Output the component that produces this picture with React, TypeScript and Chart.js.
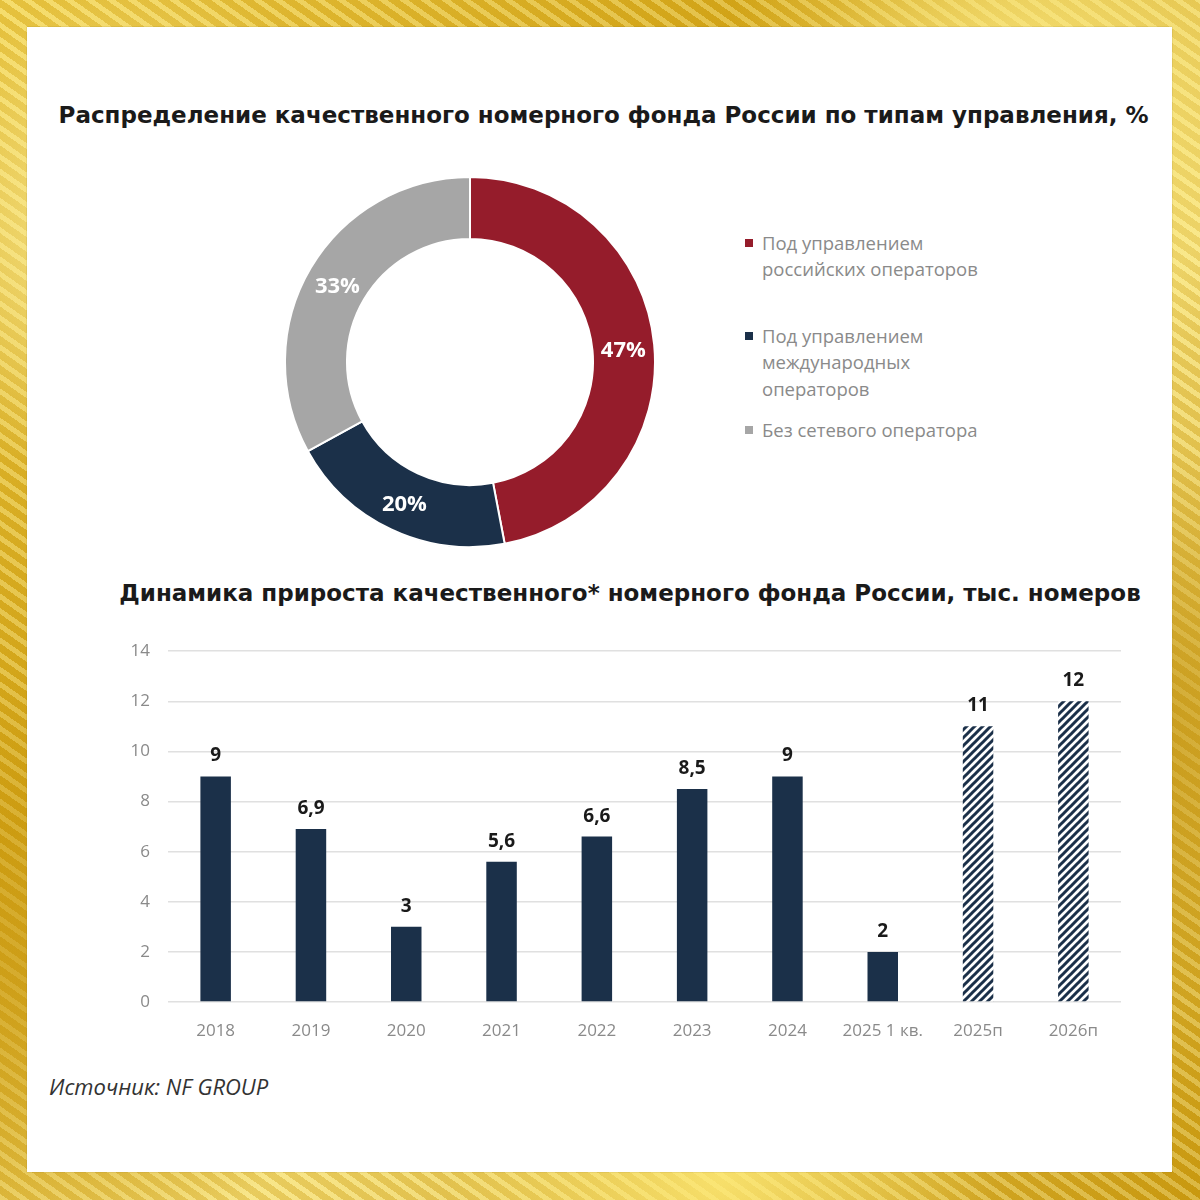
import React, { useEffect, useRef } from "react";
import { Chart, registerables } from "chart.js";

Chart.register(...registerables);

// ---------- data ----------
const pieTitle = "Распределение качественного номерного фонда России по типам управления, %";
const shareLegendLines = [
  ["Под управлением", "российских операторов"],
  ["Под управлением", "международных", "операторов"],
  ["Без сетевого оператора"],
];
const shareLabels = [
  "Под управлением российских операторов",
  "Под управлением международных операторов",
  "Без сетевого оператора",
];
const shareValues = [47, 20, 33];
const shareColors = ["#951c2b", "#1b3049", "#a6a6a6"];

const barTitle = "Динамика прироста качественного* номерного фонда России, тыс. номеров";
const yearCategories = ["2018", "2019", "2020", "2021", "2022", "2023", "2024", "2025 1 кв.", "2025п", "2026п"];
const growthValues = [9, 6.9, 3, 5.6, 6.6, 8.5, 9, 2, 11, 12];
const forecastFlags = [false, false, false, false, false, false, false, false, true, true];
const yAxisMin = 0;
const yAxisMax = 14;
const yAxisStep = 2;

const sourceText = "Источник: NF GROUP";

const NAVY = "#1b3049";
const fmt = (v: number) => String(v).replace(".", ",");

function makeHatch(): CanvasPattern | string {
  const s = 8;
  const c = document.createElement("canvas");
  c.width = s;
  c.height = s;
  const p = c.getContext("2d");
  if (!p) return NAVY;
  p.fillStyle = "#ffffff";
  p.fillRect(0, 0, s, s);
  p.strokeStyle = NAVY;
  p.lineWidth = 3;
  p.lineCap = "square";
  p.beginPath();
  p.moveTo(-2, 2);
  p.lineTo(2, -2);
  p.moveTo(0, s);
  p.lineTo(s, 0);
  p.moveTo(s - 2, s + 2);
  p.lineTo(s + 2, s - 2);
  p.stroke();
  const pat = p.createPattern(c, "repeat");
  return pat || NAVY;
}

const doughnutLabels = {
  id: "doughnutLabels",
  afterDatasetsDraw(chart: any) {
    const ctx = chart.ctx;
    const meta = chart.getDatasetMeta(0);
    ctx.save();
    ctx.font = 'bold 22px "Open Sans"';
    ctx.fillStyle = "#ffffff";
    ctx.textAlign = "center";
    ctx.textBaseline = "middle";
    meta.data.forEach((arc: any, i: number) => {
      const pos = arc.tooltipPosition();
      ctx.fillText(shareValues[i] + "%", pos.x, pos.y + 3);
    });
    ctx.restore();
  },
};

const barValueLabels = {
  id: "barValueLabels",
  afterDatasetsDraw(chart: any) {
    const ctx = chart.ctx;
    const meta = chart.getDatasetMeta(0);
    ctx.save();
    ctx.font = 'bold 19px "Open Sans"';
    ctx.fillStyle = "#1a1a1a";
    ctx.textAlign = "center";
    ctx.textBaseline = "alphabetic";
    meta.data.forEach((bar: any, i: number) => {
      ctx.fillText(fmt(growthValues[i]), bar.x, bar.y - 15);
    });
    ctx.restore();
  },
};

export default function App() {
  const pieRef = useRef<HTMLCanvasElement>(null);
  const barRef = useRef<HTMLCanvasElement>(null);

  useEffect(() => {
    if (!pieRef.current || !barRef.current) return;
    const pie = new Chart(pieRef.current, {
      type: "doughnut",
      data: {
        labels: shareLabels,
        datasets: [
          {
            data: shareValues,
            backgroundColor: shareColors,
            borderColor: "#ffffff",
            borderWidth: 2,
          },
        ],
      },
      options: {
        animation: false,
        responsive: false,
        maintainAspectRatio: false,
        cutout: "66.5%",
        layout: { padding: 0 },
        plugins: { legend: { display: false }, tooltip: { enabled: false } },
      },
      plugins: [doughnutLabels],
    });

    const hatch = makeHatch();
    const bar = new Chart(barRef.current, {
      type: "bar",
      data: {
        labels: yearCategories,
        datasets: [
          {
            data: growthValues,
            backgroundColor: forecastFlags.map((f) => (f ? hatch : NAVY)) as any,
            borderWidth: 0,
            categoryPercentage: 1,
            barPercentage: 0.32,
          },
        ],
      },
      options: {
        animation: false,
        responsive: false,
        maintainAspectRatio: false,
        layout: { padding: { top: 0, right: 19, left: 0, bottom: 0 } },
        plugins: { legend: { display: false }, tooltip: { enabled: false } },
        scales: {
          x: {
            grid: { display: false },
            border: { display: false },
            ticks: {
              color: "#8a8a8a",
              font: { family: "Open Sans", size: 17 },
              padding: 11,
              maxRotation: 0,
              autoSkip: false,
            },
            afterFit: (s: any) => {
              s.height = 58;
            },
          },
          y: {
            min: yAxisMin,
            max: yAxisMax,
            ticks: {
              stepSize: yAxisStep,
              color: "#8a8a8a",
              font: { family: "Open Sans", size: 17 },
              padding: 18,
            },
            grid: { color: "#e0e0e0", lineWidth: 1.5, drawTicks: false },
            border: { display: false },
            afterFit: (s: any) => {
              s.width = 58;
            },
          },
        },
      },
      plugins: [barValueLabels],
    });

    return () => {
      pie.destroy();
      bar.destroy();
    };
  }, []);

  const titleStyle = (cx: number, cy: number): React.CSSProperties => ({
    position: "absolute",
    left: cx,
    top: cy - 16,
    transform: "translateX(-50%)",
    whiteSpace: "nowrap",
    fontFamily: '"DejaVu Sans", sans-serif',
    fontWeight: "bold",
    fontSize: 23,
    lineHeight: "32px",
    color: "#1a1a1a",
  });

  const legendTops = [243, 336, 430];
  const legendLineH = 26.5;

  return (
    <div
      style={{
        position: "absolute",
        left: 0,
        top: 0,
        width: 1200,
        height: 1200,
        overflow: "hidden",
        background:
          "radial-gradient(circle at 12% 20%, rgba(255,245,170,0.85), transparent 18%)," +
          "radial-gradient(circle at 85% 8%, rgba(255,240,140,0.8), transparent 20%)," +
          "radial-gradient(circle at 92% 60%, rgba(190,140,10,0.7), transparent 22%)," +
          "radial-gradient(circle at 6% 80%, rgba(200,150,15,0.7), transparent 20%)," +
          "radial-gradient(circle at 60% 98%, rgba(255,235,120,0.8), transparent 20%)," +
          "repeating-linear-gradient(35deg, rgba(255,255,210,0.25) 0 5px, rgba(170,120,0,0.18) 5px 12px)," +
          "linear-gradient(135deg, #f3d24c, #d7a816 35%, #f6de72 60%, #cf9f12)",
      }}
    >
      <div
        style={{
          position: "absolute",
          left: 27,
          top: 27,
          width: 1145,
          height: 1145,
          background: "#ffffff",
          boxShadow: "0 0 1px rgba(120,100,40,0.6)",
        }}
      />
      <div style={titleStyle(603.5, 115)}>{pieTitle}</div>
      <canvas
        ref={pieRef}
        width={372}
        height={372}
        style={{ position: "absolute", left: 284, top: 176, width: 372, height: 372 }}
      />
      {shareLegendLines.map((lines, i) => (
        <div
          key={i}
          style={{
            position: "absolute",
            left: 745,
            top: legendTops[i] - legendLineH / 2,
            fontFamily: '"Open Sans", sans-serif',
            fontSize: 18.5,
            lineHeight: legendLineH + "px",
            color: "#8a8a8a",
          }}
        >
          <span
            style={{
              position: "absolute",
              left: 0,
              top: legendLineH / 2 - 4,
              width: 8,
              height: 8,
              background: shareColors[i],
            }}
          />
          <div style={{ marginLeft: 17, whiteSpace: "nowrap" }}>
            {lines.map((l, j) => (
              <div key={j}>{l}</div>
            ))}
          </div>
        </div>
      ))}
      <div style={titleStyle(630, 593)}>{barTitle}</div>
      <canvas
        ref={barRef}
        width={1030}
        height={437}
        style={{ position: "absolute", left: 110, top: 623, width: 1030, height: 437 }}
      />
      <div
        style={{
          position: "absolute",
          left: 49,
          top: 1071,
          fontFamily: '"Open Sans", sans-serif',
          fontStyle: "italic",
          fontSize: 22,
          lineHeight: "30px",
          color: "#333333",
          whiteSpace: "nowrap",
        }}
      >
        {sourceText}
      </div>
    </div>
  );
}
